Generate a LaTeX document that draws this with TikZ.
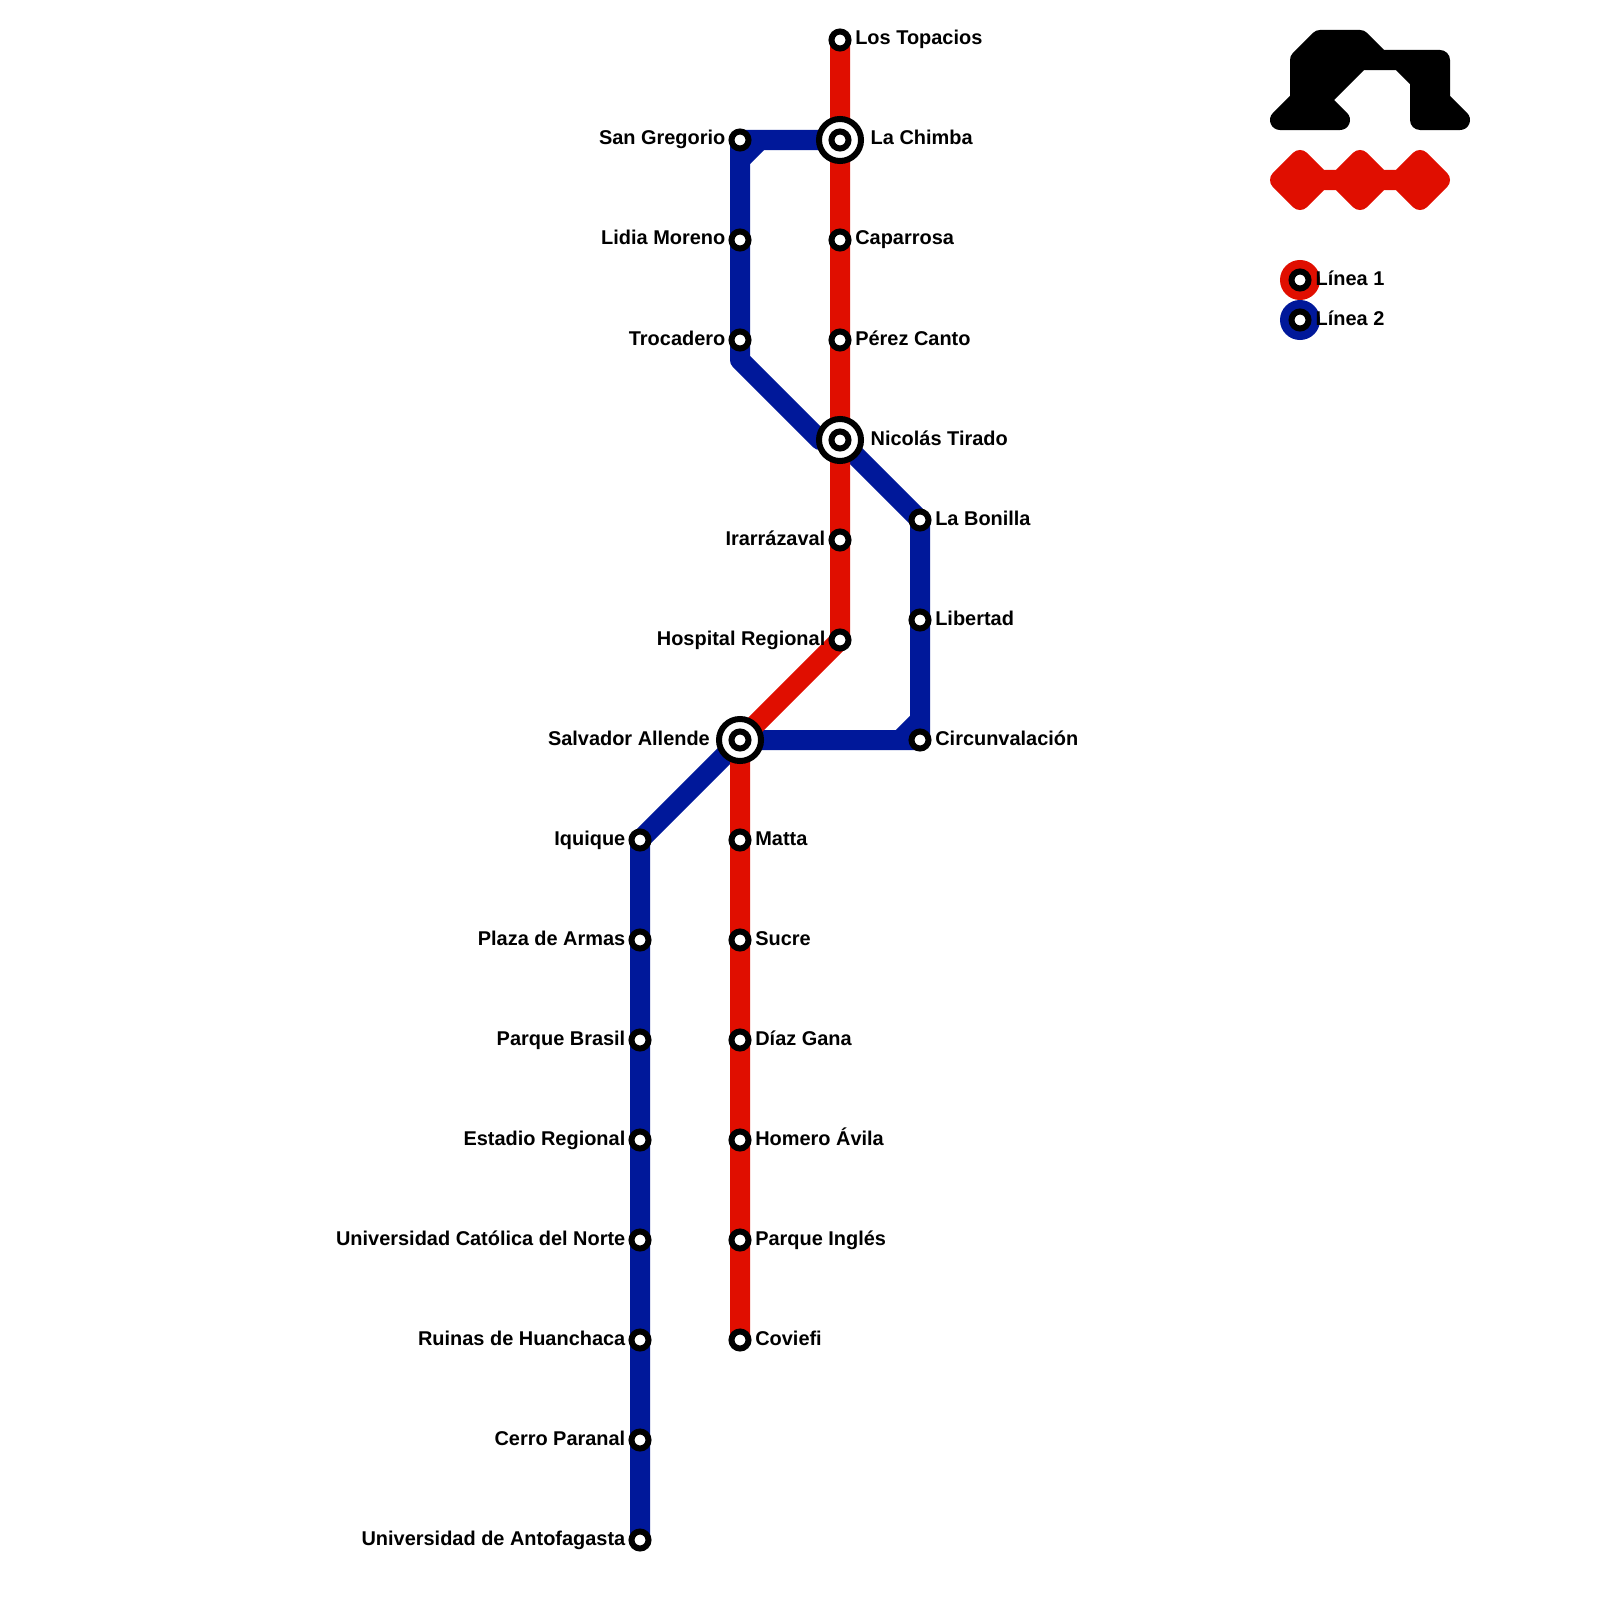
\documentclass[tikz,border=0pt]{standalone}
\usepackage{fontspec}
\setmainfont{Liberation Sans}
\usetikzlibrary{backgrounds, calc}
\definecolor{lineRed}{HTML}{E00E00}
\definecolor{lineBlue}{HTML}{00189A}

\begin{document}
\begin{tikzpicture}[
    x=0.01cm, y=-0.01cm,
    stn/.style={circle, draw, fill=white, line width=0.06cm, minimum size=0.17cm, inner sep=0pt},
    hub/.style={circle, draw, fill=white, line width=0.06cm, minimum size=0.42cm, inner sep=0pt},
    lbl/.style={font=\bfseries\fontsize{5.67}{6.5}\selectfont, inner sep=0pt},
    lnr/.style={draw=lineRed, line width=0.2cm, line join=round},
    lnb/.style={draw=lineBlue, line width=0.2cm, line join=round},
    keyr/.style={circle, fill=lineRed, minimum size=0.4cm, inner sep=0pt},
    keyb/.style={circle, fill=lineBlue, minimum size=0.4cm, inner sep=0pt},
    logo/.style={line width=0.2cm, line join=round}
]
    \useasboundingbox (0,0) rectangle (1600,1600);

    % line 1
    \node[stn] (topacios) at (840,40) {};
    \node[hub] (chimbaHub) at (840,140) {};
    \node[stn] (chimba) at (840,140) {};
    \node[stn] (caparrosa) at (840,240) {};
    \node[stn] (perez) at (840,340) {};
    \node[hub] (tiradoHub) at (840,440) {};
    \node[stn] (tirado) at (840,440) {};
    \node[stn] (irarrazaval) at (840,540) {};
    \node[stn] (hospital) at (840,640) {};
    \node[hub] (allendeHub) at (740,740) {};
    \node[stn] (allende) at (740,740) {};
    \node[stn] (matta) at (740,840) {};
    \node[stn] (sucre) at (740,940) {};
    \node[stn] (diaz) at (740,1040) {};
    \node[stn] (homero) at (740,1140) {};
    \node[stn] (ingles) at (740,1240) {};
    \node[stn] (coviefi) at (740,1340) {};

    % line 2
    \node[stn] (gregorio) at (740,140) {};
    \node[stn] (lidia) at (740,240) {};
    \node[stn] (trocadero) at (740,340) {};
    \node[stn] (bonilla) at (920,520) {};
    \node[stn] (libertad) at (920,620) {};
    \node[stn] (circunv) at (920,740) {};
    \node[stn] (iquique) at (640,840) {};
    \node[stn] (plaza) at (640,940) {};
    \node[stn] (brasil) at (640,1040) {};
    \node[stn] (estadio) at (640,1140) {};
    \node[stn] (catolica) at (640,1240) {};
    \node[stn] (ruinas) at (640,1340) {};
    \node[stn] (paranal) at (640,1440) {};
    \node[stn] (antofagasta) at (640,1540) {};

    \coordinate (bendA) at (740,160);
    \coordinate (bendB) at (760,140);
    \coordinate (bendC) at (740,360);
    \coordinate (bendD) at (820,440);
    \coordinate (bendE) at (920,720);
    \coordinate (bendF) at (900,740);

    \begin{scope}[on background layer]
        \draw[lnb] (chimba.center) -- (gregorio.center) -- (lidia.center) -- (trocadero.center) -- (bendC) -- (bendD) -- (tirado.center) -- (bonilla.center) -- (libertad.center) -- (circunv.center) -- (allende.center) -- (iquique.center) -- (plaza.center) -- (brasil.center) -- (estadio.center) -- (catolica.center) -- (ruinas.center) -- (paranal.center) -- (antofagasta.center);
        \draw[lnb] (bendA) -- (bendB);
        \draw[lnb] (bendE) -- (bendF);
        \draw[lnr] (topacios.center) -- (chimba.center) -- (caparrosa.center) -- (perez.center) -- (tirado.center) -- (irarrazaval.center) -- (hospital.center) -- (allende.center) -- (matta.center) -- (sucre.center) -- (diaz.center) -- (homero.center) -- (ingles.center) -- (coviefi.center);
    \end{scope}

    % labels on the right
    \node[lbl, anchor=base west] (topaciosL) at ($(topacios)+(14.6,5)$) {Los Topacios};
    \node[lbl, anchor=base west] (chimbaL) at ($(chimba)+(30,5)$) {La Chimba};
    \node[lbl, anchor=base west] (caparrosaL) at ($(caparrosa)+(14.6,5)$) {Caparrosa};
    \node[lbl, anchor=base west] (perezL) at ($(perez)+(14.6,5)$) {Pérez Canto};
    \node[lbl, anchor=base west] (tiradoL) at ($(tirado)+(30,5)$) {Nicolás Tirado};
    \node[lbl, anchor=base west] (bonillaL) at ($(bonilla)+(14.6,5)$) {La Bonilla};
    \node[lbl, anchor=base west] (libertadL) at ($(libertad)+(14.6,5)$) {Libertad};
    \node[lbl, anchor=base west] (circunvL) at ($(circunv)+(14.6,5)$) {Circunvalación};
    \node[lbl, anchor=base west] (mattaL) at ($(matta)+(14.6,5)$) {Matta};
    \node[lbl, anchor=base west] (sucreL) at ($(sucre)+(14.6,5)$) {Sucre};
    \node[lbl, anchor=base west] (diazL) at ($(diaz)+(14.6,5)$) {Díaz Gana};
    \node[lbl, anchor=base west] (homeroL) at ($(homero)+(14.6,5)$) {Homero Ávila};
    \node[lbl, anchor=base west] (inglesL) at ($(ingles)+(14.6,5)$) {Parque Inglés};
    \node[lbl, anchor=base west] (coviefiL) at ($(coviefi)+(14.6,5)$) {Coviefi};

    % labels on the left
    \node[lbl, anchor=base east] (gregorioL) at ($(gregorio)+(-14,5)$) {San Gregorio};
    \node[lbl, anchor=base east] (lidiaL) at ($(lidia)+(-14,5)$) {Lidia Moreno};
    \node[lbl, anchor=base east] (trocaderoL) at ($(trocadero)+(-14,5)$) {Trocadero};
    \node[lbl, anchor=base east] (irarrazavalL) at ($(irarrazaval)+(-14,5)$) {Irarrázaval};
    \node[lbl, anchor=base east] (hospitalL) at ($(hospital)+(-14,5)$) {Hospital Regional};
    \node[lbl, anchor=base east] (allendeL) at ($(allende)+(-29.5,5)$) {Salvador Allende};
    \node[lbl, anchor=base east] (iquiqueL) at ($(iquique)+(-14,5)$) {Iquique};
    \node[lbl, anchor=base east] (plazaL) at ($(plaza)+(-14,5)$) {Plaza de Armas};
    \node[lbl, anchor=base east] (brasilL) at ($(brasil)+(-14,5)$) {Parque Brasil};
    \node[lbl, anchor=base east] (estadioL) at ($(estadio)+(-14,5)$) {Estadio Regional};
    \node[lbl, anchor=base east] (catolicaL) at ($(catolica)+(-14,5)$) {Universidad Católica del Norte};
    \node[lbl, anchor=base east] (ruinasL) at ($(ruinas)+(-14,5)$) {Ruinas de Huanchaca};
    \node[lbl, anchor=base east] (paranalL) at ($(paranal)+(-14,5)$) {Cerro Paranal};
    \node[lbl, anchor=base east] (antofagastaL) at ($(antofagasta)+(-14,5)$) {Universidad de Antofagasta};

    % logo
    \filldraw[logo, black] (1300,60) -- (1320,40) -- (1360,40) -- (1380,60) -- (1440,60) -- (1440,100) -- (1460,120) -- (1420,120) -- (1420,80) -- (1400,60) -- (1360,60) -- (1320,100) -- (1340,120) -- (1280,120) -- (1300,100) -- cycle;
    \filldraw[logo, lineRed] (1280,180) -- (1300,160) -- (1320,180) -- (1340,180) -- (1360,160) -- (1380,180) -- (1400,180) -- (1420,160) -- (1440,180) -- (1420,200) -- (1400,180) -- (1380,180) -- (1360,200) -- (1340,180) -- (1320,180) -- (1300,200) -- cycle;

    % legend
    \node[keyr] (keyOne) at (1300,280) {};
    \node[stn] (keyOneStn) at (keyOne) {};
    \node[lbl, anchor=base west] (keyOneL) at ($(keyOne)+(15,5)$) {Línea 1};
    \node[keyb] (keyTwo) at (1300,320) {};
    \node[stn] (keyTwoStn) at (keyTwo) {};
    \node[lbl, anchor=base west] (keyTwoL) at ($(keyTwo)+(15,5)$) {Línea 2};
\end{tikzpicture}
\end{document}
